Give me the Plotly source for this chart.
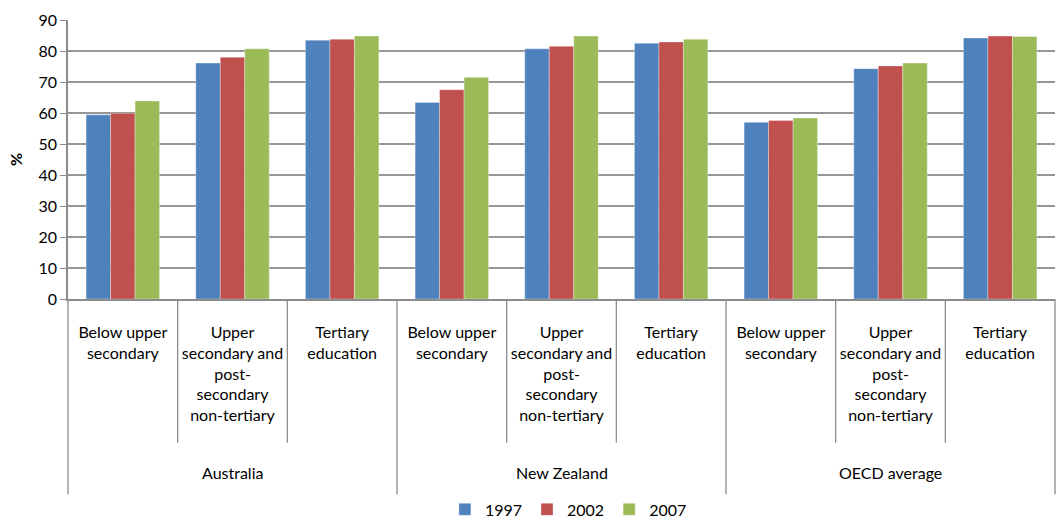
import plotly.graph_objects as go

# data
regions = ["Australia", "New Zealand", "OECD average"]
levels = [
    "Below upper<br>secondary",
    "Upper<br>secondary and<br>post-<br>secondary<br>non-tertiary",
    "Tertiary<br>education",
]
years = ["1997", "2002", "2007"]

values_1997 = [59.4, 76.1, 83.5, 63.4, 80.7, 82.5, 57.0, 74.3, 84.2]
values_2002 = [59.9, 78.0, 83.8, 67.5, 81.5, 82.9, 57.6, 75.2, 84.8]
values_2007 = [63.9, 80.7, 84.8, 71.5, 84.8, 83.8, 58.4, 76.1, 84.7]

colors = ["#4F81BD", "#C0504D", "#9BBB59"]
font_family = "Lato, 'Open Sans', sans-serif"
axis_grey = "#8c8c8c"

# one unique category per (region, level) pair
categories = [f"{r}|{lv}" for r in regions for lv in levels]
tick_text = levels * len(regions)

fig = go.Figure()
for year, vals, col in zip(years, [values_1997, values_2002, values_2007], colors):
    fig.add_trace(
        go.Bar(
            x=categories,
            y=vals,
            name=year,
            marker=dict(color=col, line=dict(width=0.6, color="rgba(255,255,255,0.55)")),
        )
    )

# vertical dividers below the axis: short ones between levels, long ones between regions
n_cat = len(categories)
shapes = []
for i in range(n_cat + 1):
    long_line = i % len(levels) == 0
    shapes.append(
        dict(
            type="line",
            xref="x domain",
            yref="paper",
            x0=i / n_cat,
            x1=i / n_cat,
            y0=0,
            y1=-0.70 if long_line else -0.515,
            line=dict(color=axis_grey, width=1.3),
        )
    )

# region labels under the level labels
annotations = []
for k, r in enumerate(regions):
    annotations.append(
        dict(
            text=r,
            xref="x",
            yref="paper",
            x=k * len(levels) + 1,
            y=-0.622,
            yanchor="middle",
            showarrow=False,
            font=dict(size=16, color="#000000", family=font_family),
        )
    )

fig.update_layout(
    width=1056,
    height=518,
    margin=dict(l=68, r=1, t=20, b=219, autoexpand=False),
    plot_bgcolor="white",
    paper_bgcolor="white",
    font=dict(family=font_family, size=16, color="#000000"),
    barmode="group",
    bargap=0.33,
    bargroupgap=0,
    shapes=shapes,
    annotations=annotations,
    showlegend=True,
    legend=dict(
        orientation="h",
        x=0.507,
        xanchor="center",
        y=-0.754,
        yanchor="middle",
        itemwidth=30,
        tracegroupgap=0,
        font=dict(size=16),
    ),
)

fig.update_xaxes(
    type="category",
    tickvals=categories,
    ticktext=tick_text,
    range=[-0.5, n_cat - 0.5],
    automargin=False,
    showline=True,
    linecolor=axis_grey,
    linewidth=1.5,
    ticks="",
    ticklabelstandoff=18,
    showgrid=False,
    tickfont=dict(size=16),
)

fig.update_yaxes(
    range=[0, 90],
    dtick=10,
    automargin=False,
    showgrid=True,
    gridcolor="#969696",
    gridwidth=1.5,
    zeroline=False,
    showline=True,
    linecolor=axis_grey,
    linewidth=1.5,
    ticks="outside",
    ticklen=6,
    tickcolor=axis_grey,
    tickfont=dict(size=16),
    title=dict(text="<b>%</b>", font=dict(size=16), standoff=12),
)

# the page body has a default 8px margin; drop it so the figure sits at the top-left corner
fig.write_html(
    "out.html",
    config={"displayModeBar": False},
    post_script="document.body.style.margin='0px'; document.body.style.overflow='hidden';",
)
